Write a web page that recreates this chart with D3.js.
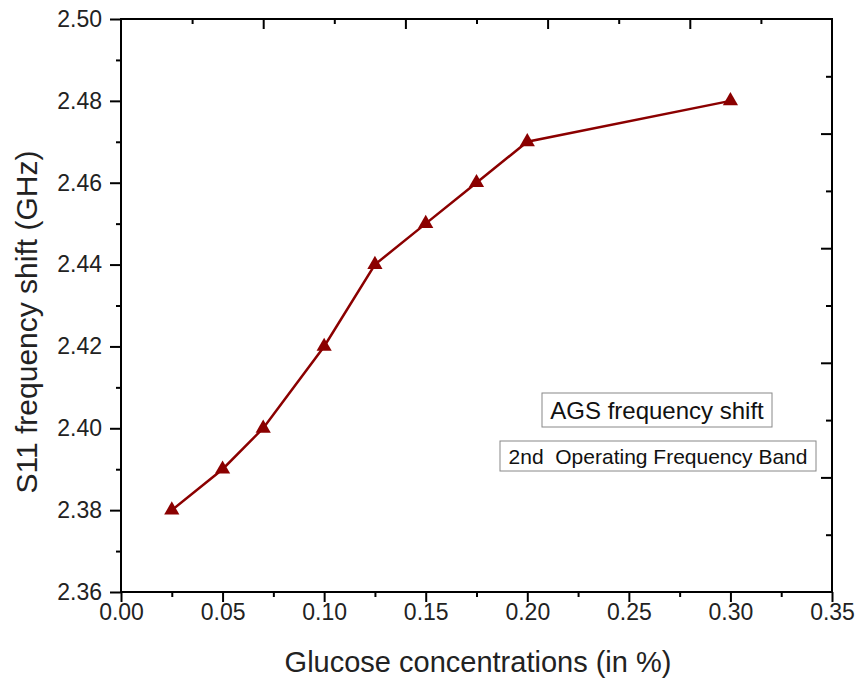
<!DOCTYPE html>
<html>
<head>
<meta charset="utf-8">
<script src="https://cdn.jsdelivr.net/npm/d3@7"></script>
<style>
  body { margin: 0; background: #fff; }
  text { font-family: "Liberation Sans", Arial, sans-serif; }
</style>
</head>
<body>
<div id="chart"></div>
<script>
const concentration = [0.025, 0.05, 0.07, 0.1, 0.125, 0.15, 0.175, 0.2, 0.3];
const freqShift = [2.38, 2.39, 2.40, 2.42, 2.44, 2.45, 2.46, 2.47, 2.48];
const xTicks = [0, 0.05, 0.1, 0.15, 0.2, 0.25, 0.3, 0.35];
const yTicks = [2.36, 2.38, 2.40, 2.42, 2.44, 2.46, 2.48, 2.50];
const legendLines = ["AGS frequency shift", "2nd  Operating Frequency Band"];

const width = 859, height = 683;
const pL = 121, pR = 832, pT = 19, pB = 592;
const red = "#8b0000";

const svg = d3.select("#chart").append("svg")
  .attr("width", width)
  .attr("height", height);

const x = d3.scaleLinear().domain([0, 0.35]).range([pL, pR]);
const y = d3.scaleLinear().domain([2.36, 2.50]).range([pB, pT]);

// minor ticks halfway between majors
const xMinor = d3.range(0.025, 0.35, 0.05);
const yMinor = d3.range(2.37, 2.50, 0.02);

const axisStyle = g => {
  g.select(".domain").remove();
  g.selectAll("line").attr("stroke", "#000").attr("stroke-width", 2);
  g.selectAll("text").attr("font-size", 23).attr("fill", "#222");
};

svg.append("g")
  .attr("transform", `translate(0,${pB})`)
  .call(d3.axisBottom(x).tickValues(xMinor).tickSize(5).tickFormat(""))
  .call(axisStyle);
svg.append("g")
  .attr("transform", `translate(0,${pB})`)
  .call(d3.axisBottom(x).tickValues(xTicks).tickSize(10).tickPadding(2).tickFormat(d3.format(".2f")))
  .call(axisStyle);

svg.append("g")
  .attr("transform", `translate(${pL},0)`)
  .call(d3.axisLeft(y).tickValues(yMinor).tickSize(5).tickFormat(""))
  .call(axisStyle);
svg.append("g")
  .attr("transform", `translate(${pL},0)`)
  .call(d3.axisLeft(y).tickValues(yTicks).tickSize(11).tickPadding(8).tickFormat(d3.format(".2f")))
  .call(axisStyle);

// top and right axes: inward ticks on their own 5-interval scale
const f = d3.scaleLinear().domain([0, 1]);
const fx = f.copy().range([pL, pR]);
const fy = f.copy().range([pB, pT]);
const fMajor = [0.2, 0.4, 0.6, 0.8];
const fMinor = [0.1, 0.3, 0.5, 0.7, 0.9];

svg.append("g").attr("transform", `translate(0,${pT})`)
  .call(d3.axisBottom(fx).tickValues(fMinor).tickSize(5).tickFormat("")).call(axisStyle);
svg.append("g").attr("transform", `translate(0,${pT})`)
  .call(d3.axisBottom(fx).tickValues(fMajor).tickSize(10).tickFormat("")).call(axisStyle);
svg.append("g").attr("transform", `translate(${pR},0)`)
  .call(d3.axisLeft(fy).tickValues(fMinor).tickSize(6).tickFormat("")).call(axisStyle);
svg.append("g").attr("transform", `translate(${pR},0)`)
  .call(d3.axisLeft(fy).tickValues(fMajor).tickSize(11).tickFormat("")).call(axisStyle);

svg.append("rect")
  .attr("x", pL).attr("y", pT)
  .attr("width", pR - pL).attr("height", pB - pT)
  .attr("fill", "none").attr("stroke", "#000").attr("stroke-width", 2);

const pts = concentration.map((c, i) => [c, freqShift[i]]);

svg.append("path")
  .datum(pts)
  .attr("d", d3.line().x(d => x(d[0])).y(d => y(d[1])))
  .attr("fill", "none")
  .attr("stroke", red)
  .attr("stroke-width", 2.5);

const tri = d3.symbol().type(d3.symbolTriangle).size(100);
svg.selectAll(".pt")
  .data(pts)
  .enter()
  .append("path")
  .attr("class", "pt")
  .attr("d", tri)
  .attr("transform", d => `translate(${x(d[0])},${y(d[1])})`)
  .attr("fill", red);

// legend boxes
const boxes = [
  { x0: 542, y0: 393, w: 230, h: 34, fs: 24 },
  { x0: 500, y0: 441, w: 316, h: 30, fs: 21 }
];
legendLines.forEach((t, i) => {
  const b = boxes[i];
  svg.append("rect")
    .attr("x", b.x0).attr("y", b.y0)
    .attr("width", b.w).attr("height", b.h)
    .attr("fill", "#fff").attr("stroke", "#888").attr("stroke-width", 1);
  svg.append("text")
    .attr("x", b.x0 + b.w / 2).attr("y", b.y0 + b.h / 2 + b.fs * 0.36)
    .attr("text-anchor", "middle")
    .attr("font-size", b.fs)
    .attr("fill", "#111")
    .style("white-space", "pre")
    .text(t);
});

svg.append("text")
  .attr("x", 478).attr("y", 672)
  .attr("text-anchor", "middle")
  .attr("font-size", 29)
  .attr("fill", "#222")
  .text("Glucose concentrations (in %)");

svg.append("text")
  .attr("transform", `translate(37,322) rotate(-90)`)
  .attr("text-anchor", "middle")
  .attr("font-size", 30)
  .attr("fill", "#222")
  .text("S11 frequency shift (GHz)");
</script>
</body>
</html>
